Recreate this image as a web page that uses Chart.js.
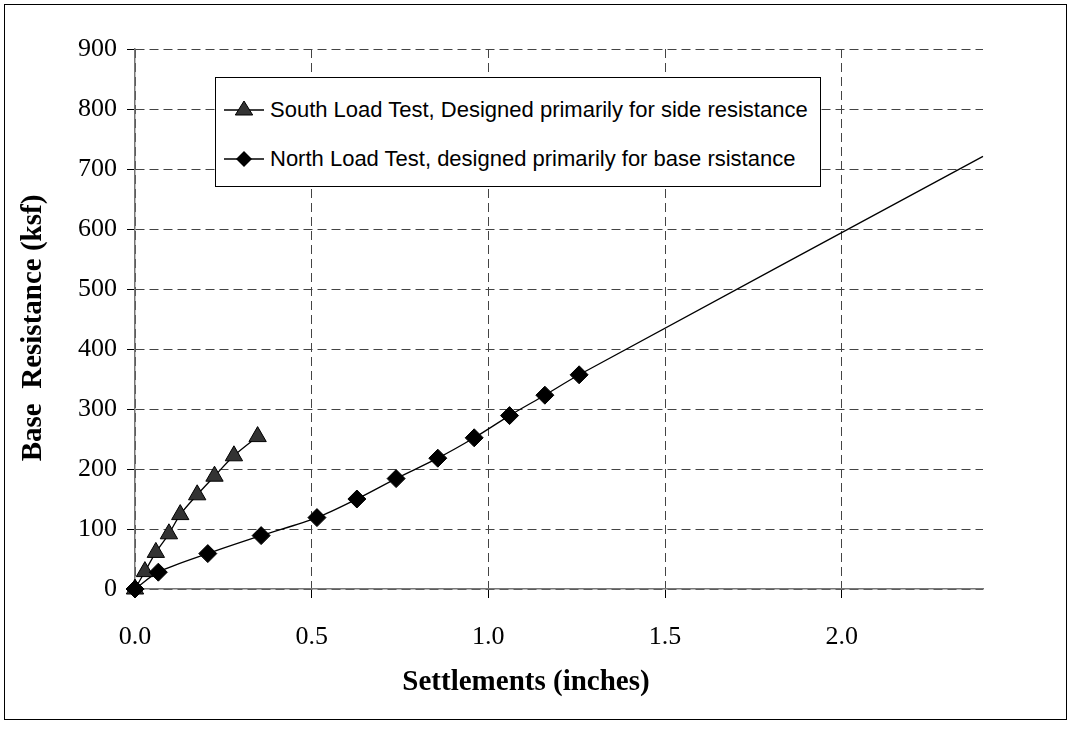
<!DOCTYPE html>
<html>
<head>
<meta charset="utf-8">
<script src="https://cdn.jsdelivr.net/npm/chart.js@4.4.1/dist/chart.umd.min.js"></script>
<style>
    html, body { margin: 0; padding: 0; background: #fff; }
    .chart-wrap { position: relative; width: 1070px; height: 729px; }
    .chart-frame {
        position: absolute; left: 4px; top: 4px; width: 1063px; height: 716px;
        border: 1px solid #000; box-sizing: border-box; pointer-events: none;
    }
    .chart-legend {
        position: absolute; left: 215px; top: 77px; width: 606px; height: 110px;
        border: 1px solid #000; background: #fff; box-sizing: border-box;
        margin: 0; padding: 0; list-style: none;
        font-family: "Liberation Sans", Arial, sans-serif; font-size: 22px; color: #000;
    }
    .chart-legend_item { position: absolute; left: 6px; display: flex; align-items: center; white-space: nowrap; }
    .chart-legend_item svg { margin-right: 4px; }
</style>
</head>
<body>
<div class="chart-wrap">
    <canvas id="chart" width="1070" height="729"></canvas>
    <div class="chart-frame"></div>
    <div id="chart-legend"></div>
</div>
<script>
// South load test (triangles)
const southX = [0, 0.028, 0.059, 0.096, 0.128, 0.176, 0.225, 0.280, 0.347];
const southY = [0, 29, 61, 92, 124, 157, 188, 222, 254];

// North load test (diamonds), last point is the extrapolated line end
const northX = [0, 0.066, 0.206, 0.357, 0.515, 0.628, 0.739, 0.857, 0.960, 1.060, 1.160, 1.257, 2.4];
const northY = [0, 28, 59, 89, 119, 150, 184, 218, 252, 289, 323, 357, 721];

const seriesNames = [
    'South Load Test, Designed primarily for side resistance',
    'North Load Test, designed primarily for base rsistance'
];
const xTicks = [0, 0.5, 1.0, 1.5, 2.0];
const yTicks = [0, 100, 200, 300, 400, 500, 600, 700, 800, 900];
const xTitle = 'Settlements (inches)';
const yTitle = 'Base  Resistance (ksf)';

const serif = '"Liberation Serif", "Times New Roman", serif';

const toPoints = (xs, ys) => xs.map((x, i) => ({ x: x, y: ys[i] }));

// axis titles drawn where the original has them (x title sits left of centre)
const axisTitles = {
    id: 'axisTitles',
    afterDraw(chart) {
        const ctx = chart.ctx;
        ctx.save();
        ctx.fillStyle = '#000';
        ctx.font = 'bold 29px ' + serif;
        ctx.textAlign = 'center';
        ctx.textBaseline = 'middle';
        ctx.fillText(xTitle, 526, 683);
        ctx.translate(34, 328);
        ctx.rotate(-Math.PI / 2);
        ctx.fillText(yTitle, 0, 0);
        ctx.restore();
    }
};

const ctx = document.getElementById('chart').getContext('2d');
const myChart = new Chart(ctx, {
    type: 'scatter',
    data: {
        datasets: [{
            label: seriesNames[0],
            data: toPoints(southX, southY),
            showLine: true,
            clip: false,
            borderColor: '#000',
            borderWidth: 1.3,
            tension: 0.3,
            pointStyle: 'triangle',
            pointRadius: 10,
            pointBackgroundColor: '#333',
            pointBorderColor: '#000',
            pointBorderWidth: 1,
            order: 1
        }, {
            label: seriesNames[1],
            data: toPoints(northX, northY),
            showLine: true,
            clip: false,
            borderColor: '#000',
            borderWidth: 1.3,
            tension: 0.3,
            pointStyle: 'rectRot',
            pointRadius: (c) => c.dataIndex === northX.length - 1 ? 0 : 9,
            pointBackgroundColor: '#000',
            pointBorderColor: '#000',
            pointBorderWidth: 1,
            order: 0
        }]
    },
    options: {
        responsive: false,
        animation: false,
        devicePixelRatio: 1,
        layout: { padding: { top: 49, right: 87, left: 0, bottom: 0 } },
        plugins: {
            legend: { display: false },
            tooltip: { enabled: false }
        },
        scales: {
            x: {
                type: 'linear',
                min: 0,
                max: 2.4,
                afterBuildTicks: (axis) => { axis.ticks = xTicks.map(v => ({ value: v })); },
                afterFit: (axis) => { axis.height = 140; },
                ticks: {
                    color: '#000',
                    font: { family: serif, size: 26 },
                    padding: 24,
                    maxRotation: 0,
                    callback: (v) => Number(v).toFixed(1)
                },
                grid: {
                    color: '#444',
                    lineWidth: 1,
                    tickLength: 9,
                    tickColor: '#000',
                    tickBorderDash: []
                },
                border: { display: true, color: '#777', width: 1.5, dash: [9, 5] }
            },
            y: {
                type: 'linear',
                min: 0,
                max: 900,
                afterBuildTicks: (axis) => { axis.ticks = yTicks.map(v => ({ value: v })); },
                afterFit: (axis) => { axis.width = 135; },
                ticks: {
                    color: '#000',
                    font: { family: serif, size: 26 },
                    padding: 10
                },
                grid: {
                    color: '#444',
                    lineWidth: 1,
                    tickLength: 8,
                    tickColor: '#000',
                    tickBorderDash: []
                },
                border: { display: true, color: '#777', width: 1.5, dash: [9, 5] }
            }
        }
    },
    plugins: [axisTitles]
});

// html legend in the plot, same idea as a legendCallback
function markerSvg(style) {
    const shape = style === 'triangle'
        ? '<polygon points="22,3 30.7,17 13.3,17" fill="#333" stroke="#000" stroke-width="1"/>'
        : '<polygon points="22,4 30,12 22,20 14,12" fill="#000"/>';
    return `<svg width="44" height="24" viewBox="0 0 44 24">
        <line x1="2" y1="12" x2="42" y2="12" stroke="#000" stroke-width="1.3"/>${shape}</svg>`;
}

let itemsHtml = '';
const rowTops = [32, 81];
myChart.data.datasets.forEach((ds, i) => {
    itemsHtml += `
    <li class="chart-legend_item" style="top:${rowTops[i] - 13}px; height:26px;">
        ${markerSvg(ds.pointStyle)}<span class="chart-legend_item-title">${ds.label}</span>
    </li>`;
});
document.getElementById('chart-legend').innerHTML = `<ul class="chart-legend">${itemsHtml}</ul>`;
</script>
</body>
</html>
